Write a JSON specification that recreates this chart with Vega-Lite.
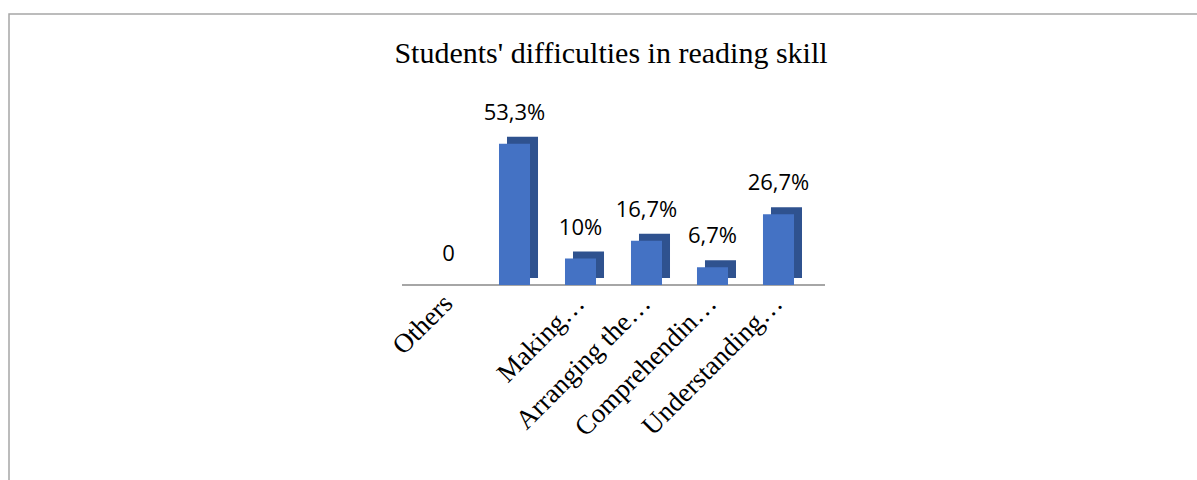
{
  "$schema": "https://vega.github.io/schema/vega-lite/v6.json",
  "autosize": "none",
  "width": 1200,
  "height": 480,
  "padding": {"left": 9, "top": 14, "right": 0, "bottom": 0},
  "background": "white",
  "title": {
    "text": "Students' difficulties in reading skill",
    "font": "Liberation Serif",
    "fontSize": 30,
    "fontWeight": "normal",
    "color": "#000000",
    "anchor": "middle",
    "baseline": "alphabetic",
    "offset": -79,
    "dx": 2
  },
  "data": {
    "values": [
      {"cat": "Others", "value": 0, "label": "0"},
      {"cat": " ", "value": 53.3, "label": "53,3%"},
      {"cat": "Making…", "value": 10, "label": "10%"},
      {"cat": "Arranging the…", "value": 16.7, "label": "16,7%"},
      {"cat": "Comprehendin…", "value": 6.7, "label": "6,7%"},
      {"cat": "Understanding…", "value": 26.7, "label": "26,7%"}
    ]
  },
  "encoding": {
    "x": {
      "field": "cat",
      "type": "nominal",
      "sort": null,
      "scale": {
        "domain": ["Others", " ", "Making…", "Arranging the…", "Comprehendin…", "Understanding…"],
        "range": [424, 785],
        "paddingInner": 0.53,
        "paddingOuter": 0
      },
      "axis": {
        "title": null,
        "orient": "bottom",
        "offset": -209,
        "labelAngle": -45,
        "labelAlign": "right",
        "labelBaseline": "middle",
        "labelFont": "Liberation Serif",
        "labelFontSize": 27,
        "labelColor": "#000000",
        "labelPadding": 14,
        "labelLimit": 400,
        "ticks": false,
        "domain": false,
        "grid": false
      }
    }
  },
  "layer": [
    {
      "mark": {"type": "rule", "color": "#a6a6a6", "strokeWidth": 1.5},
      "encoding": {
        "x": {"datum": "Others", "bandPosition": -1},
        "x2": {"datum": "Understanding…", "bandPosition": 2},
        "y": {"datum": 0, "type": "quantitative", "scale": {"domain": [-78.9, 102.3], "nice": false, "zero": false}, "axis": null}
      }
    },
    {
      "mark": {"type": "bar", "color": "#2f528f", "xOffset": 8, "yOffset": -7},
      "encoding": {
        "y": {"field": "value", "type": "quantitative", "axis": null}
      }
    },
    {
      "mark": {"type": "bar", "color": "#4472c4"},
      "encoding": {
        "y": {"field": "value", "type": "quantitative", "axis": null}
      }
    },
    {
      "mark": {"type": "text", "font": "Open Sans", "fontSize": 22, "baseline": "alphabetic", "dy": -24, "color": "#000000"},
      "encoding": {
        "y": {"field": "value", "type": "quantitative", "axis": null},
        "text": {"field": "label", "type": "nominal"}
      }
    }
  ],
  "config": {
    "view": {"stroke": "#a6a6a6", "strokeWidth": 1.5}
  }
}
